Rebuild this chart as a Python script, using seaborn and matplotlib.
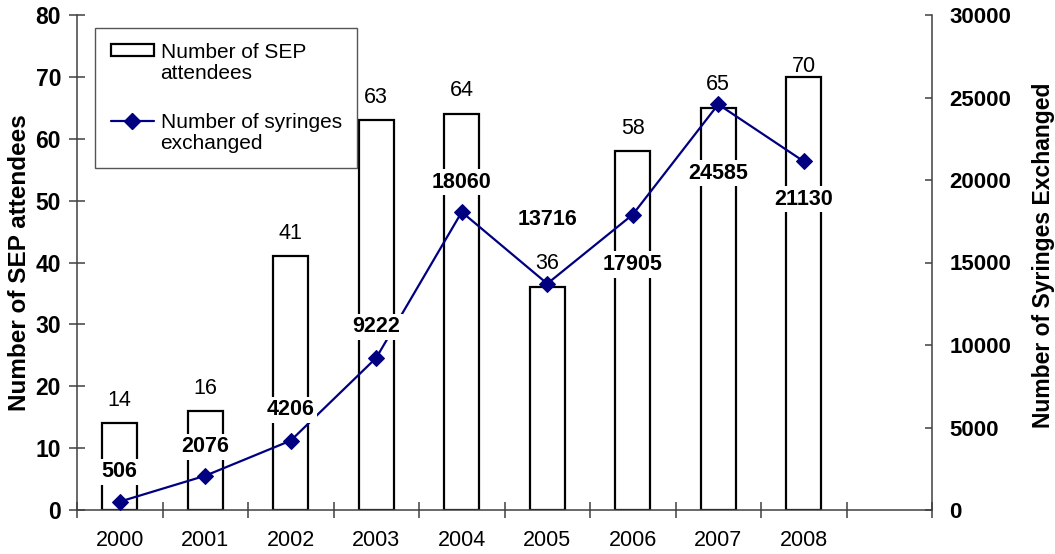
import matplotlib
matplotlib.use('Agg')
import matplotlib.pyplot as plt
import seaborn as sns
import pandas as pd
import numpy as np
from matplotlib.patches import Patch
from matplotlib.lines import Line2D
from matplotlib.legend_handler import HandlerPatch, HandlerLine2D

# ---- data ----
years = ['2000', '2001', '2002', '2003', '2004', '2005', '2006', '2007', '2008']
attendees = [14, 16, 41, 63, 64, 36, 58, 65, 70]
syringes = [506, 2076, 4206, 9222, 18060, 13716, 17905, 24585, 21130]

# label offsets (pixels, positive = up) -- styling only
att_off_px = [23, 23, 23, 23, 23, 24, 23, 23, 10]
syr_off_px = [30, 29, 31, 31, 30, 64, -50, -69, -38]

sns.set_theme(style='white')
plt.rcParams['font.family'] = ['Liberation Sans', 'DejaVu Sans']
plt.rcParams['text.color'] = 'black'
plt.rcParams['axes.labelcolor'] = 'black'
plt.rcParams['xtick.labelcolor'] = 'black'
plt.rcParams['ytick.labelcolor'] = 'black'

W, H = 1055, 554
fig = plt.figure(figsize=(W / 100, H / 100), dpi=100)
ax = fig.add_axes([77 / W, 44 / H, 855 / W, 495 / H])
px2pt = 72 / 100

pos = np.arange(len(years))
df = pd.DataFrame({'pos': pos, 'attendees': attendees, 'syringes': syringes})

sns.barplot(data=df, x='pos', y='attendees', native_scale=True, color='white',
            saturation=1, edgecolor='black', linewidth=1.6, width=0.41, ax=ax, zorder=2)

spine_c = '#404040'
ax.set_xlim(-0.5, 9.5)
ax.set_ylim(0, 80)
ax.set_yticks(np.arange(0, 81, 10))
ax.set_xticks(np.arange(-0.5, 9.6, 1))
ax.set_xticklabels([])
ax.set_xticks(pos, minor=True)
ax.set_xticklabels(years, minor=True)
ax.tick_params(axis='x', which='major', direction='inout', length=11, width=1.1, color=spine_c, bottom=True)
ax.tick_params(axis='x', which='minor', length=0, pad=14.5, labelsize=15.5, labelcolor='black', bottom=True)
ax.tick_params(axis='y', direction='inout', length=11, width=1.1, color=spine_c, pad=6.0,
               labelsize=16.5, left=True)
for lab in ax.get_yticklabels():
    lab.set_fontweight('bold')
ax.set_xlabel('')
ax.set_ylabel('Number of SEP attendees', fontsize=17.5, fontweight='bold')
ax.yaxis.set_label_coords(-0.054, 0.5)
for s in ['top', 'right']:
    ax.spines[s].set_visible(False)
for s in ['left', 'bottom']:
    ax.spines[s].set_color(spine_c)
    ax.spines[s].set_linewidth(1.1)
ax.grid(False)

for p, v, o in zip(pos, attendees, att_off_px):
    ax.annotate(str(v), xy=(p, v), xytext=(0, o * px2pt), textcoords='offset points',
                ha='center', va='center', fontsize=15.5, color='black')

ax2 = ax.twinx()
sns.lineplot(data=df, x='pos', y='syringes', color='#000080', marker='D', markersize=8.5,
             markeredgecolor='#000080', linewidth=1.6, ax=ax2)
ax2.set_ylim(0, 30000)
ax2.set_yticks(np.arange(0, 30001, 5000))
ax2.tick_params(axis='y', direction='in', length=5, width=1.1, color=spine_c, pad=12.5,
                labelsize=16, right=True)
for lab in ax2.get_yticklabels():
    lab.set_fontweight('bold')
ax2.set_ylabel('Number of Syringes Exchanged', fontsize=16.5, fontweight='bold')
ax2.yaxis.set_label_coords(1.117, 0.515)
ax2.set_xlabel('')
for s in ['top', 'left', 'bottom']:
    ax2.spines[s].set_visible(False)
ax2.spines['right'].set_color(spine_c)
ax2.spines['right'].set_linewidth(1.1)
ax2.grid(False)

for p, v, o in zip(pos, syringes, syr_off_px):
    ax2.annotate(str(v), xy=(p, v), xytext=(0, o * px2pt), textcoords='offset points',
                 ha='center', va='center', fontsize=15.5, fontweight='bold', color='black',
                 bbox=dict(boxstyle='square,pad=0.12', fc='white', ec='none'), zorder=5)


SHIFT = 0.62


class UpPatch(HandlerPatch):
    def create_artists(self, legend, orig_handle, xdescent, ydescent, width, height, fontsize, trans):
        return super().create_artists(legend, orig_handle, xdescent, ydescent - SHIFT * fontsize,
                                      width, height, fontsize, trans)


class UpLine(HandlerLine2D):
    def create_artists(self, legend, orig_handle, xdescent, ydescent, width, height, fontsize, trans):
        return super().create_artists(legend, orig_handle, xdescent, ydescent - 2 * SHIFT * fontsize,
                                      width, height, fontsize, trans)


h_bar = Patch(facecolor='white', edgecolor='black', linewidth=1.6)
h_line = Line2D([0], [0], color='#000080', marker='D', markersize=8, linewidth=1.6)
leg = ax2.legend([h_bar, h_line], ['Number of SEP\nattendees', 'Number of syringes\nexchanged'],
                 loc='upper left', bbox_to_anchor=(0.021, 0.974), frameon=True, fancybox=False,
                 edgecolor='#555555', framealpha=1, fontsize=15, handlelength=2.1,
                 handleheight=0.5, handletextpad=0.3, labelspacing=1.45, borderpad=0.75,
                 borderaxespad=0, handler_map={Patch: UpPatch(), Line2D: UpLine()})
leg.get_frame().set_linewidth(1.0)
leg.set_zorder(10)
for t in leg.get_texts():
    t.set_linespacing(1.1)

fig.savefig('out.png', dpi=100)
